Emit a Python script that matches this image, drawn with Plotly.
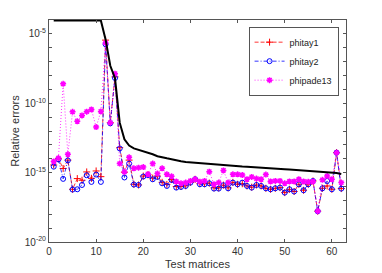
import numpy as np
import plotly.graph_objects as go

x = list(range(1, 63))

# log10 of relative errors
phitay1_log = [-14.45, -14.0, -14.7, -14.1, -16.2, -15.43, -15.55, -14.95, -15.41, -14.88,
               -15.29, -5.45, -11.4, -8.1, -13.2, -14.97, -14.1, -15.84, -15.89, -15.25,
               -15.15, -15.4, -15.25, -15.7, -15.85, -15.5, -16.0, -16.0, -15.95, -15.7,
               -15.48, -15.8, -15.8, -15.75, -16.1, -16.1, -15.9, -16.1, -15.7, -15.84,
               -15.8, -15.96, -16.05, -15.89, -15.96, -16.13, -16.2, -16.13, -16.08, -16.44,
               -16.2, -16.36, -15.84, -16.27, -15.84, -15.6, -17.78, -16.13, -15.96, -16.2,
               -13.56, -16.15]
phitay2_log = [-14.57, -14.05, -15.45, -14.12, -16.22, -16.2, -15.89, -15.19, -15.67, -15.14,
               -15.67, -5.75, -11.45, -8.18, -13.26, -15.35, -14.35, -15.86, -15.89, -15.28,
               -15.18, -15.48, -15.31, -15.77, -15.96, -15.53, -16.08, -16.03, -15.96, -15.72,
               -15.48, -15.84, -15.84, -15.77, -16.15, -16.15, -15.91, -16.13, -15.72, -15.84,
               -15.72, -15.96, -16.08, -15.89, -15.96, -16.13, -16.2, -16.13, -16.08, -16.44,
               -16.2, -16.36, -15.84, -16.27, -15.84, -15.6, -17.78, -16.13, -15.6, -16.2,
               -13.56, -16.15]
phipade13_log = [-14.2, -13.95, -8.6, -13.68, -10.62, -11.3, -10.88, -10.61, -10.45, -11.72,
                 -10.59, -5.65, -11.4, -7.87, -14.35, -14.95, -13.9, -14.69, -14.64, -14.6,
                 -15.12, -14.35, -15.07, -14.69, -15.12, -15.27, -15.64, -15.77, -15.72, -15.6,
                 -15.48, -15.65, -15.6, -14.93, -15.84, -15.72, -14.84, -15.72, -15.12, -15.12,
                 -15.17, -15.48, -15.31, -15.43, -15.48, -15.14, -15.64, -15.6, -15.6, -15.77,
                 -15.64, -15.64, -15.48, -15.64, -15.66, -15.64, -17.78, -15.52, -15.25, -15.48,
                 -13.56, -15.72]
bound_log = [-4.03] * 11 + [-5.4, -7.3, -8.2, -11.4, -12.6, -13.05, -13.25, -13.35, -13.45,
             -13.55, -13.68, -13.82, -13.92, -13.97, -14.03, -14.12, -14.18, -14.23, -14.26,
             -14.28, -14.3, -14.36, -14.4, -14.42, -14.43, -14.46, -14.5, -14.52, -14.54,
             -14.56, -14.57, -14.6, -14.62, -14.65, -14.67, -14.7, -14.72, -14.74, -14.76,
             -14.78, -14.8, -14.82, -14.85, -14.87, -14.9, -14.92, -14.95, -14.97, -15.0,
             -15.03, -15.1]

phitay1 = [10 ** v for v in phitay1_log]
phitay2 = [10 ** v for v in phitay2_log]
phipade13 = [10 ** v for v in phipade13_log]
bound = [10 ** v for v in bound_log]

x_ticks = [0, 10, 20, 30, 40, 50, 60]
y_exps = list(range(-4, -21, -1))
y_labeled = [-5, -10, -15, -20]

FONT = "Liberation Sans"

fig = go.Figure()
fig.add_trace(go.Scatter(x=x, y=phitay1, name="phitay1", mode="lines+markers",
                         line=dict(color="#ff0000", width=0.8, dash="4px,2px"),
                         marker=dict(symbol="cross-thin-open", size=5,
                                     line=dict(color="#ff0000", width=1))))
fig.add_trace(go.Scatter(x=x, y=phitay2, name="phitay2", mode="lines+markers",
                         line=dict(color="#0000ff", width=0.8, dash="4px,2px,1px,2px"),
                         marker=dict(symbol="circle-open", size=5,
                                     line=dict(color="#0000ff", width=1))))
fig.add_trace(go.Scatter(x=x, y=phipade13, name="phipade13", mode="lines+markers",
                         line=dict(color="#ff00ff", width=0.8, dash="1px,2px"),
                         marker=dict(symbol="asterisk-open", size=5,
                                     line=dict(color="#ff00ff", width=1.5))))
fig.add_trace(go.Scatter(x=x, y=bound, mode="lines", showlegend=False,
                         line=dict(color="#000000", width=2)))

axis_common = dict(showline=True, linecolor="#555555", linewidth=1, mirror="ticks",
                   ticks="inside", ticklen=3, tickcolor="#555555", showgrid=False,
                   zeroline=False, automargin=False,
                   tickfont=dict(family=FONT, size=10, color="#333333"))

fig.update_xaxes(range=[0, 63], tickvals=x_ticks,
                 title=dict(text="Test matrices", standoff=4,
                            font=dict(family=FONT, size=11, color="#333333")),
                 **axis_common)
fig.update_yaxes(type="log", range=[-20, -4],
                 tickvals=[10 ** e for e in y_exps],
                 ticktext=[("10<sup>%d</sup>" % e) if e in y_labeled else "" for e in y_exps],
                 title=dict(text="Relative errors", standoff=2,
                            font=dict(family=FONT, size=11, color="#333333")),
                 **axis_common)

# page body has an 8px margin, so the figure is 8px smaller than the window
fig.update_layout(width=374, height=265, margin=dict(l=41, r=36, t=12, b=31),
                  plot_bgcolor="white", paper_bgcolor="white",
                  legend=dict(x=0.975, y=0.97, xanchor="right", yanchor="top",
                              bgcolor="white", bordercolor="#555555", borderwidth=1,
                              font=dict(family=FONT, size=9, color="#222222"),
                              itemwidth=30, tracegroupgap=0))

fig.write_html("out.html")
